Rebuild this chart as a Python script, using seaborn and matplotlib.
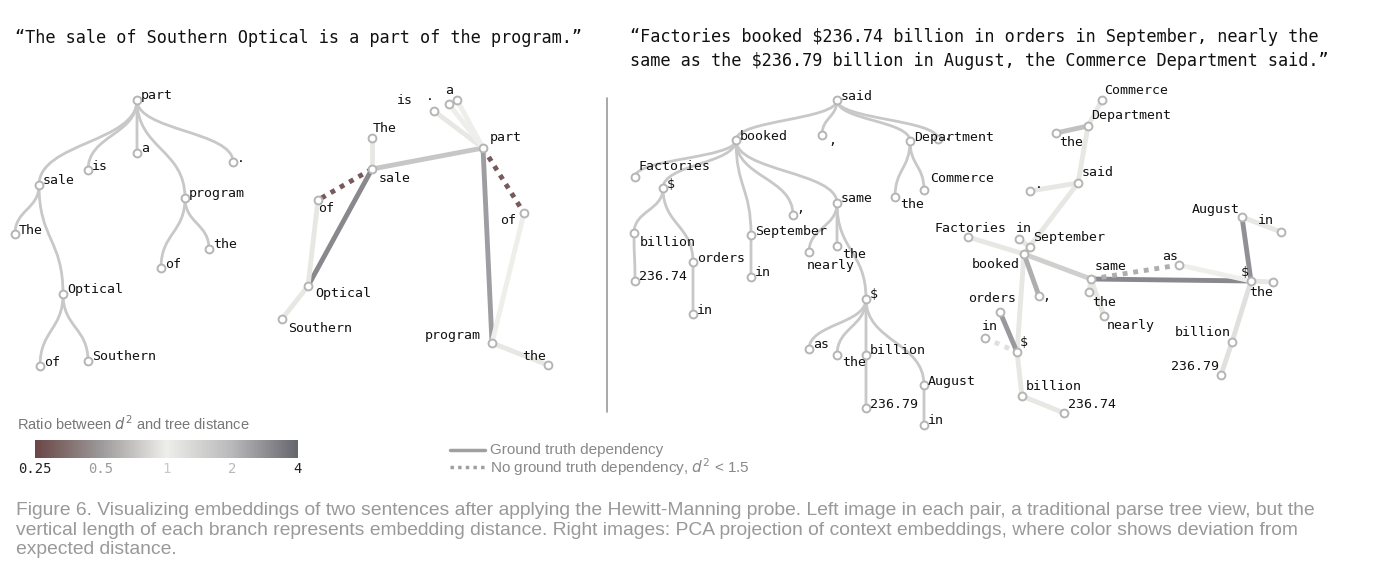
#! /usr/bin/env python3
"""Redraw of the Hewitt-Manning probe figure: parse trees and PCA views."""

import numpy as np
import matplotlib
matplotlib.use("Agg")
import matplotlib.pyplot as plt
from matplotlib.colors import LinearSegmentedColormap
from matplotlib.path import Path
from matplotlib.patches import PathPatch
import seaborn as sns

# ---- data (pixel positions) ----
# sentence 1, parse tree view
t1_words = ["part", "sale", "is", "a", ".", "program", "The", "Optical",
            "of", "Southern", "of ", "the"]
t1_x = [137, 39, 88, 137, 233, 185, 15, 63, 40, 88, 161, 209]
t1_y = [100, 185, 170, 153, 162, 198, 234, 294, 366, 361, 268, 249]
t1_edges = [("part", "sale"), ("part", "is"), ("part", "a"), ("part", "."),
            ("part", "program"), ("sale", "The"), ("sale", "Optical"),
            ("Optical", "of"), ("Optical", "Southern"),
            ("program", "of "), ("program", "the")]

# sentence 1, PCA view
p1_words = ["is", ".", "a", "part", "The", "sale", "of", "of ", "Optical",
            "Southern", "program", "the"]
p1_x = [434, 449, 457, 483, 372, 372, 318, 524, 308, 282, 492, 548]
p1_y = [111, 104, 100, 148, 138, 169, 200, 213, 286, 319, 343, 365]
p1_lab_x = [397, 426, 445, 490, 373, 379, 318, 500, 315, 288, 425, 522]
p1_lab_y = [101, 97, 91, 138, 128, 178, 208, 220, 294, 328, 336, 356]
p1_edges = [("The", "sale"), ("sale", "part"), ("sale", "Optical"),
            ("of", "Optical"), ("Optical", "Southern"), ("part", "is"),
            ("part", "."), ("part", "a"), ("part", "program"),
            ("of ", "program"), ("program", "the"),
            ("sale", "of"), ("part", "of ")]
p1_ratio = [1.1, 1.7, 3.0, 1.1, 1.1, 1.1, 1.0, 1.0, 2.5, 1.0, 1.1, 0.3, 0.3]
p1_dashed = [False] * 11 + [True, True]

# sentence 2, parse tree view
t2_words = ["said", "booked", ",", "Department", ".", "Factories", "$",
            "Commerce", "the", "same", ", ", "billion", "September", "the ",
            "nearly", "orders", "236.74", "in", "in ", "$ ", "as", "the  ",
            "billion ", "August", "236.79", "in  "]
t2_x = [837, 736, 822, 910, 938, 635, 663, 924, 895, 837, 793, 634, 751,
        837, 809, 693, 635, 751, 693, 866, 809, 837, 866, 924, 866, 924]
t2_y = [100, 140, 135, 141, 139, 177, 188, 190, 197, 203, 215, 233, 235,
        246, 252, 262, 281, 277, 314, 299, 349, 355, 355, 385, 408, 425]
t2_edges = [("said", "booked"), ("said", ","), ("said", "Department"),
            ("said", "."), ("booked", "Factories"), ("booked", "$"),
            ("booked", "September"), ("booked", ", "), ("booked", "same"),
            ("$", "billion"), ("$", "orders"), ("billion", "236.74"),
            ("orders", "in "), ("September", "in"), ("Department", "the"),
            ("Department", "Commerce"), ("same", "nearly"), ("same", "the "),
            ("same", "$ "), ("$ ", "as"), ("$ ", "the  "), ("$ ", "billion "),
            ("$ ", "August"), ("billion ", "236.79"), ("August", "in  ")]
# label offsets that differ from the default (right of node, slightly up)
t2_label_off = {"Factories": (4, -10), "Commerce": (6, -11), "the": (5, 8),
                "billion": (6, 9), "the ": (5, 8), "nearly": (-2, 13),
                ",": (6, 6), ", ": (3, -6), "the  ": (5, 7), ".": (6, -2)}

# sentence 2, PCA view
p2_words = ["Commerce", "Department", "the", "said", ".", "Factories", "in",
            "September", "booked", ",", "orders", "in ", "$", "billion",
            "236.74", "same", "the ", "nearly", "as", "August", "in  ", "$ ",
            "the  ", "billion ", "236.79"]
p2_x = [1102, 1088, 1056, 1078, 1030, 968, 1019, 1030, 1024, 1039, 1000, 985,
        1017, 1022, 1064, 1091, 1089, 1104, 1179, 1242, 1281, 1251, 1273,
        1232, 1221]
p2_y = [100, 126, 133, 183, 191, 237, 239, 247, 254, 296, 312, 338, 352, 396,
        413, 279, 292, 316, 265, 217, 232, 281, 282, 342, 375]
p2_lab_x = [1104, 1091, 1059, 1082, 1035, 935, 1016, 1033, 972, 1042, 968,
            982, 1020, 1026, 1068, 1095, 1092, 1107, 1162, 1192, 1258, 1241,
            1249, 1175, 1171]
p2_lab_y = [91, 116, 143, 173, 184, 228, 228, 238, 264, 297, 298, 326, 343,
            387, 404, 266, 303, 326, 257, 209, 220, 273, 293, 333, 366]
p2_edges = [("said", "booked"), ("said", "."), ("said", "Department"),
            ("Department", "the"), ("Department", "Commerce"),
            ("booked", "Factories"), ("booked", "$"), ("booked", "September"),
            ("booked", ","), ("booked", "same"), ("$", "billion"),
            ("$", "orders"), ("billion", "236.74"), ("September", "in"),
            ("same", "the "), ("same", "nearly"), ("same", "$ "),
            ("$ ", "as"), ("$ ", "the  "), ("$ ", "billion "),
            ("$ ", "August"), ("billion ", "236.79"), ("August", "in  "),
            ("same", "as"), ("in ", "$")]
p2_ratio = [1.1, 1.1, 1.1, 1.8, 1.1, 1.1, 1.1, 1.1, 2.2, 1.5, 1.1, 2.6, 1.1,
            1.1, 1.1, 1.1, 3.0, 1.0, 1.1, 1.2, 2.8, 1.2, 1.1, 2.2, 1.2]
p2_dashed = [False] * 23 + [True, True]

titles = ["\u201cThe sale of Southern Optical is a part of the program.\u201d",
          "\u201cFactories booked $236.74 billion in orders in September, nearly the\n"
          "same as the $236.79 billion in August, the Commerce Department said.\u201d"]
cbar_ticks = [0.25, 0.5, 1, 2, 4]
caption = ("Figure 6. Visualizing embeddings of two sentences after applying the "
           "Hewitt-Manning probe. Left image in each pair, a traditional parse tree view, but the\n"
           "vertical length of each branch represents embedding distance. Right images: PCA "
           "projection of context embeddings, where color shows deviation from\n"
           "expected distance.")

# ---- styling ----
sns.set_theme(style="white")
plt.rcParams["font.family"] = ["DejaVu Sans Mono"]
MONO = "DejaVu Sans Mono"
cmap = LinearSegmentedColormap.from_list(
    "ratio", [(0, "#6b4646"), (0.25, "#9c9a9a"), (0.5, "#eeeeea"),
              (0.75, "#b9b9bb"), (1, "#66666e")])


def ratio_color(r):
    return cmap((np.log2(r) + 2) / 4)


fig = plt.figure(figsize=(14, 5.84), dpi=100)
ax = fig.add_axes([0, 0, 1, 1])
ax.set_xlim(0, 1400)
ax.set_ylim(584, 0)
ax.axis("off")


def draw_tree(words, xs, ys, edges, offsets=None):
    offsets = offsets or {}
    pos = {w: (x, y) for w, x, y in zip(words, xs, ys)}
    for a, b in edges:
        (x0, y0), (x1, y1) = pos[a], pos[b]
        ym = (y0 + y1) / 2
        path = Path([(x0, y0), (x0, ym), (x1, ym), (x1, y1)],
                    [Path.MOVETO, Path.CURVE4, Path.CURVE4, Path.CURVE4])
        ax.add_patch(PathPatch(path, fill=False, ec="#c8c8c8", lw=2, zorder=1))
    sns.scatterplot(x=xs, y=ys, ax=ax, s=32, color="white", edgecolor="#b5b5b5",
                    linewidth=1.4, zorder=3, legend=False)
    for w, x, y in zip(words, xs, ys):
        dx, dy = offsets.get(w, (4, -4))
        ax.text(x + dx, y + dy, w.strip(), fontsize=9.5, family=MONO,
                ha="left", va="center", color="#111", zorder=4)


def draw_pca(words, xs, ys, lx, ly, edges, ratios, dashed):
    pos = {w: (x, y) for w, x, y in zip(words, xs, ys)}
    for (a, b), r, d in zip(edges, ratios, dashed):
        (x0, y0), (x1, y1) = pos[a], pos[b]
        if d:
            ax.plot([x0, x1], [y0, y1], color=ratio_color(r), lw=3.5,
                    ls=(0, (1, 1.2)), zorder=1, solid_capstyle="butt")
        else:
            ax.plot([x0, x1], [y0, y1], color=ratio_color(r), lw=3.5,
                    zorder=1, solid_capstyle="round")
    sns.scatterplot(x=xs, y=ys, ax=ax, s=32, color="white", edgecolor="#b5b5b5",
                    linewidth=1.4, zorder=3, legend=False)
    for w, x, y in zip(words, lx, ly):
        ax.text(x, y, w.strip(), fontsize=9.5, family=MONO,
                ha="left", va="center", color="#111", zorder=4)


draw_tree(t1_words, t1_x, t1_y, t1_edges)
draw_pca(p1_words, p1_x, p1_y, p1_lab_x, p1_lab_y, p1_edges, p1_ratio, p1_dashed)
draw_tree(t2_words, t2_x, t2_y, t2_edges, t2_label_off)
draw_pca(p2_words, p2_x, p2_y, p2_lab_x, p2_lab_y, p2_edges, p2_ratio, p2_dashed)

# titles and divider
ax.text(15, 38, titles[0], fontsize=12.2, family=MONO, va="center", color="#111")
ax.text(630, 49, titles[1], fontsize=12.2, family=MONO, va="center",
        color="#111", linespacing=1.4)
ax.plot([607, 607], [98, 412], color="#999", lw=1.2)

# colour bar
cax = fig.add_axes([35 / 1400, 1 - 458 / 584, 263 / 1400, 18 / 584])
grad = np.linspace(0, 1, 256)[None, :]
cax.imshow(grad, aspect="auto", cmap=cmap, extent=[-2, 2, 0, 1])
cax.set_axis_off()
ax.text(17, 424, "Ratio between $d^2$ and tree distance", fontsize=10.5,
        family="Liberation Sans", va="center", color="#777")
for t in cbar_ticks:
    xt = 35 + (np.log2(t) + 2) / 4 * 263
    c = ratio_color(t) if t != 1 else "#c8c8c8"
    ax.text(xt, 469, f"{t:g}", fontsize=10, family=MONO, ha="center",
            va="center", color="#222" if t in (0.25, 4) else c)

# line legend
ax.plot([450, 485], [450, 450], color="#a0a0a0", lw=2.5)
ax.plot([450, 485], [467, 467], color="#a0a0a0", lw=2.5, ls=(0, (1, 1.2)))
ax.text(490, 450, "Ground truth dependency", fontsize=11, family="Liberation Sans",
        va="center", color="#888")
ax.text(490, 467, "No ground truth dependency, $d^2$ < 1.5", fontsize=11,
        family="Liberation Sans", va="center", color="#888")

# caption
ax.text(16, 502, caption, fontsize=13.9, family="Liberation Sans", va="top",
        color="#999", linespacing=1.2)

fig.savefig("out.png", dpi=100)
plt.close(fig)
